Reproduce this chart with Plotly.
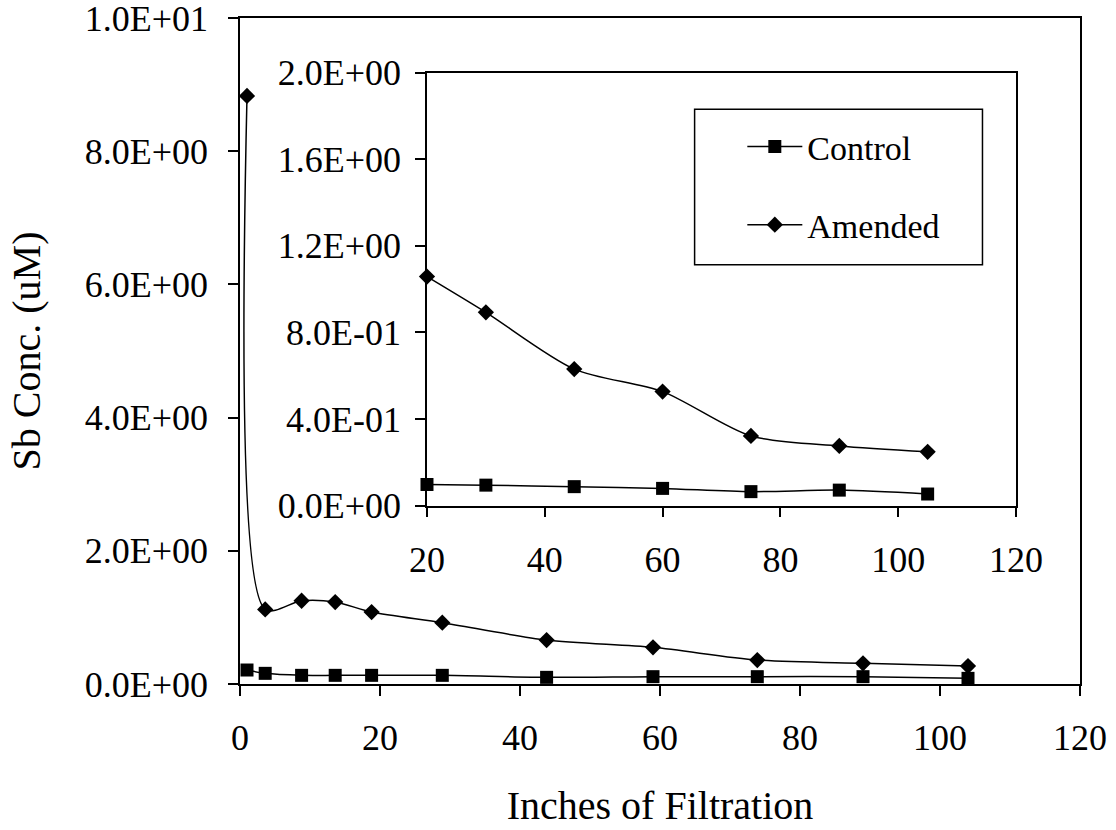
import plotly.graph_objects as go

# Main chart: Sb concentration vs inches of filtration
main_x = [1, 3.6, 8.8, 13.6, 18.8, 28.9, 43.8, 59.0, 73.9, 89.0, 104.0]
main_control = [0.21, 0.16, 0.13, 0.13, 0.13, 0.13, 0.10, 0.11, 0.11, 0.11, 0.085]
main_amended = [8.83, 1.12, 1.25, 1.23, 1.08, 0.92, 0.66, 0.55, 0.36, 0.31, 0.27]

# Inset: zoom on the later part of the run
inset_x = [20, 30, 45, 60, 75, 90, 105]
inset_control = [0.098, 0.095, 0.088, 0.080, 0.065, 0.072, 0.054]
inset_amended = [1.058, 0.893, 0.631, 0.527, 0.322, 0.276, 0.249]

main_yticks = [0, 2, 4, 6, 8, 10]
main_yticktext = ["0.0E+00", "2.0E+00", "4.0E+00", "6.0E+00", "8.0E+00", "1.0E+01"]
main_xticks = [0, 20, 40, 60, 80, 100, 120]
inset_yticks = [0, 0.4, 0.8, 1.2, 1.6, 2.0]
inset_yticktext = ["0.0E+00", "4.0E-01", "8.0E-01", "1.2E+00", "1.6E+00", "2.0E+00"]
inset_xticks = [20, 40, 60, 80, 100, 120]

FONT = "Liberation Serif"
TICK_FS = 36
TITLE_FS = 40
LEGEND_FS = 34

line = dict(color="black", width=1.5, shape="spline", smoothing=0.8)
sq = dict(symbol="square", size=13, color="black")
dm = dict(symbol="diamond", size=12.5, color="black")

fig = go.Figure()
fig.add_trace(go.Scatter(x=main_x, y=main_control, mode="lines+markers",
                         line=line, marker=sq, showlegend=False, cliponaxis=False))
fig.add_trace(go.Scatter(x=main_x, y=main_amended, mode="lines+markers",
                         line=line, marker=dm, showlegend=False, cliponaxis=False))
fig.add_trace(go.Scatter(x=inset_x, y=inset_control, mode="lines+markers", name="Control",
                         legendgroup="c", line=line, marker=sq, xaxis="x2", yaxis="y2",
                         cliponaxis=False))
fig.add_trace(go.Scatter(x=inset_x, y=inset_amended, mode="lines+markers", name="Amended",
                         legendgroup="a", line=line, marker=dm, xaxis="x2", yaxis="y2",
                         cliponaxis=False))

axis_common = dict(showline=True, linecolor="black", linewidth=1.5, mirror=True,
                   ticks="outside", ticklen=10, tickwidth=1.5, tickcolor="black",
                   showgrid=False, zeroline=False, automargin=False,
                   ticklabeloverflow="allow",
                   tickfont=dict(family=FONT, size=TICK_FS, color="black"))

fig.update_layout(
    width=1116, height=830,
    margin=dict(l=240, r=36, t=18, b=146),
    paper_bgcolor="white", plot_bgcolor="white",
    font=dict(family=FONT, size=TICK_FS, color="black"),
    xaxis=dict(axis_common, domain=[0, 1], range=[0, 120], tickvals=main_xticks,
               ticklabelstandoff=11,
               title=dict(text="Inches of Filtration", standoff=34,
                          font=dict(family=FONT, size=TITLE_FS))),
    yaxis=dict(axis_common, domain=[0, 1], range=[0, 10], tickvals=main_yticks,
               ticktext=main_yticktext, ticklabelstandoff=13,
               title=dict(text="Sb Conc. (uM)", standoff=32,
                          font=dict(family=FONT, size=TITLE_FS))),
    xaxis2=dict(axis_common, domain=[0.2226, 0.9238], anchor="y2", range=[20, 120],
                tickvals=inset_xticks, ticklabelstandoff=11),
    yaxis2=dict(axis_common, domain=[0.2677, 0.918], anchor="x2", range=[0, 2],
                tickvals=inset_yticks, ticktext=inset_yticktext, ticklabelstandoff=7),
    legend=dict(x=0.598, y=0.85, xanchor="left", yanchor="top",
                bgcolor="rgba(0,0,0,0)", borderwidth=0, itemwidth=55,
                tracegroupgap=31, font=dict(family=FONT, size=LEGEND_FS)),
    shapes=[dict(type="rect", xref="paper", yref="paper",
                 x0=0.5412, x1=0.8839, y0=0.6296, y1=0.8629,
                 line=dict(color="black", width=1.5))],
)

fig.write_html("out.html")
